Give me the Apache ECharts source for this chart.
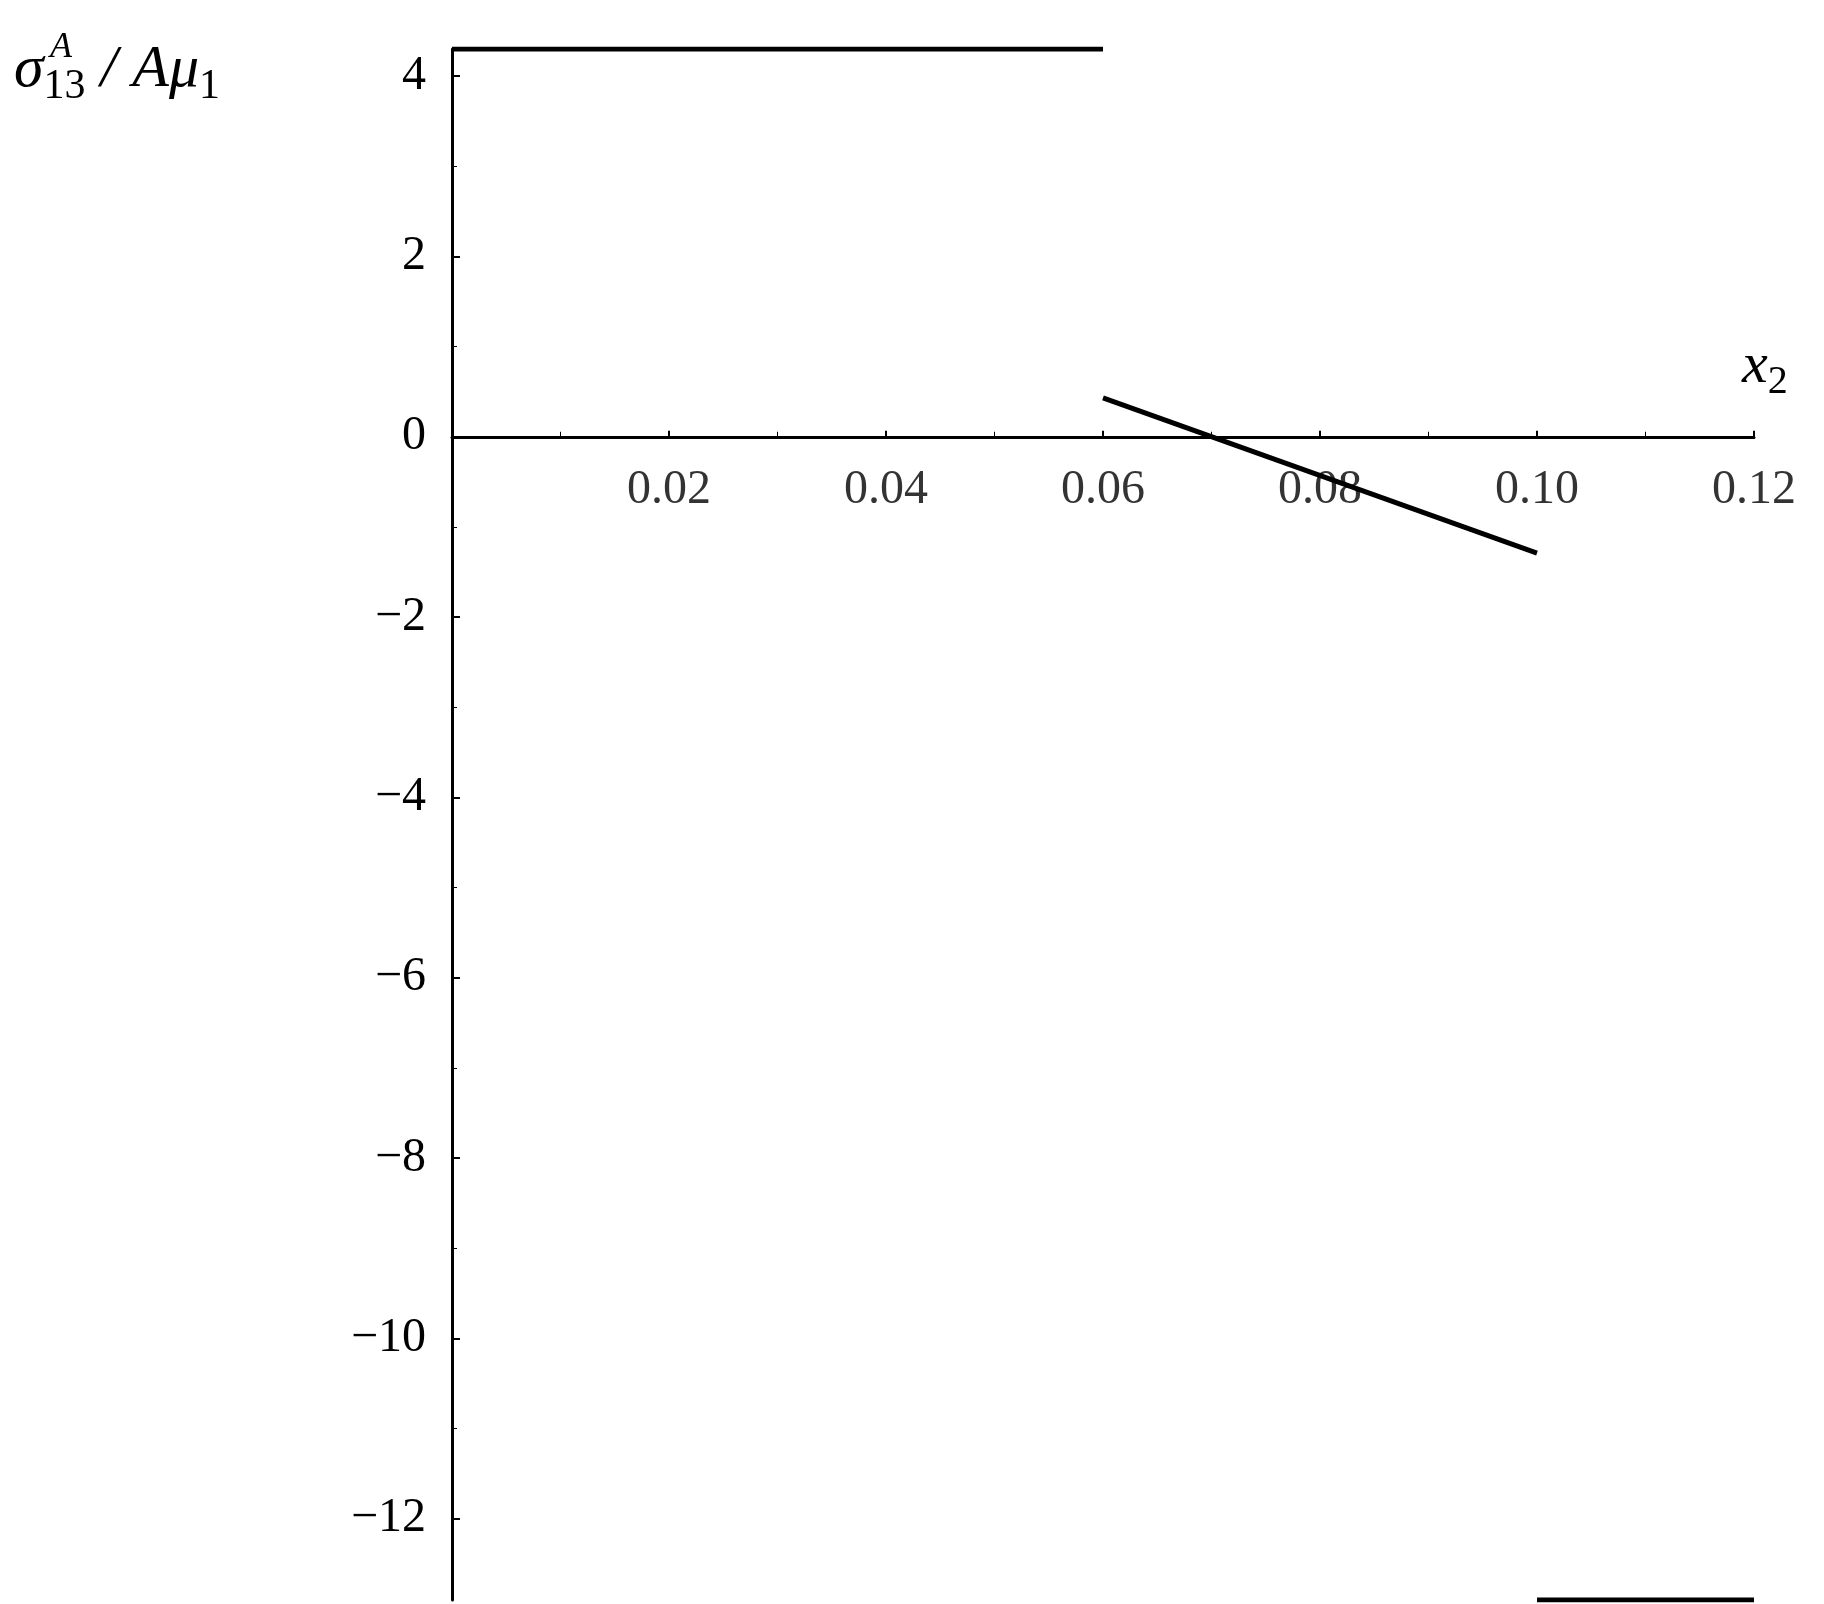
<!DOCTYPE html>
<html><head><meta charset="utf-8">
<script src="https://cdn.jsdelivr.net/npm/echarts@6/dist/echarts.min.js"></script>
<style>html,body{margin:0;background:#fff}#c{width:1824px;height:1604px}</style>
</head><body><div id="c"></div>
<script>
var upper = [[0, 4.3], [0.06, 4.3]];
var middle = [[0.06, 0.43], [0.10, -1.29]];
var lower = [[0.10, -12.9], [0.12, -12.9]];
var xTicks = [0.02, 0.04, 0.06, 0.08, 0.10, 0.12];
var yMajor = [-12, -10, -8, -6, -4, -2, 0, 2, 4];
var yMinor = [-11, -9, -7, -5, -3, -1, 1, 3];

var chart = echarts.init(document.getElementById('c'));
var font = 'Liberation Serif';
function seg(d) {
  return { type: 'line', data: d, symbol: 'none', lineStyle: { color: '#000', width: 5 }, silent: true };
}
var option = {
  animation: false,
  grid: { left: 452, right: 70, top: 49, bottom: 4 },
  xAxis: {
    type: 'value', min: 0, max: 0.12, interval: 0.02,
    axisLine: { onZero: true, lineStyle: { color: '#000', width: 3 } },
    axisTick: { length: 6, inside: true, lineStyle: { color: '#000', width: 2 } },
    minorTick: { show: true, splitNumber: 2, length: 5, lineStyle: { color: '#000', width: 1 } },
    splitLine: { show: false },
    axisLabel: { show: false }
  },
  yAxis: [{
    type: 'value', min: -12.9, max: 4.3,
    axisLine: { lineStyle: { color: '#000', width: 3 } },
    axisTick: { inside: true, length: 8, customValues: yMajor, lineStyle: { color: '#000', width: 2 } },
    axisLabel: { customValues: yMajor, fontFamily: font, fontSize: 48, color: '#000', margin: 26,
      formatter: function (v) { return v < 0 ? '\u2212' + (-v) : String(v); } },
    splitLine: { show: false }
  }, {
    type: 'value', min: -12.9, max: 4.3, position: 'left', offset: 0,
    axisLine: { show: false },
    axisTick: { inside: true, length: 5, customValues: yMinor, lineStyle: { color: '#000', width: 1 } },
    axisLabel: { show: false }, splitLine: { show: false }
  }],
  graphic: [{
    type: 'text', left: 14, top: 40,
    style: {
      text: '{s|\u03c3}{sub|13}{s| / A\u03bc}{sub|1}',
      rich: {
        s: { fontFamily: font, fontStyle: 'italic', fontSize: 60, color: '#000' },
        sub: { fontFamily: font, fontSize: 42, color: '#000', padding: [34, 0, 0, 0] }
      }
    }
  }, {
    type: 'text', left: 50, top: 30,
    style: { text: 'A', font: 'italic 36px "Liberation Serif"', fill: '#000' }
  }, {
    type: 'text', left: 1742, top: 338,
    style: { text: '{s|x}{sub|2}', rich: {
      s: { fontFamily: font, fontStyle: 'italic', fontSize: 58, color: '#000' },
      sub: { fontFamily: font, fontSize: 40, color: '#000', padding: [30, 0, 0, 0] } } }
  }],
  series: [seg(upper), seg(middle), seg(lower), {
    type: 'scatter', symbolSize: 0, silent: true,
    data: xTicks.map(function (v) { return [v, 0]; }),
    label: { show: true, position: 'bottom', distance: 30, fontFamily: font, fontSize: 48, color: '#000',
      formatter: function (p) { return p.value[0].toFixed(2); } }
  }]
};
chart.setOption(option);
</script></body></html>
